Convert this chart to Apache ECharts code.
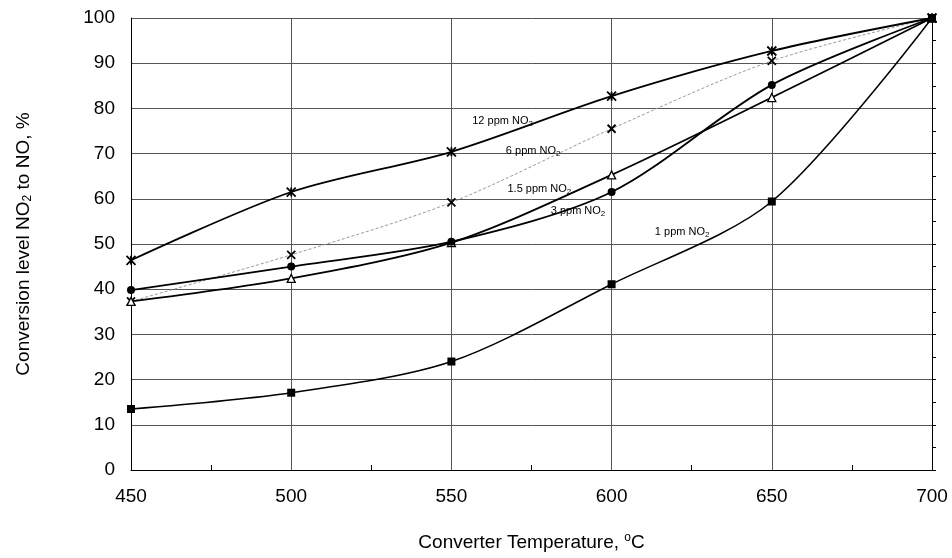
<!DOCTYPE html>
<html>
<head>
<meta charset="utf-8">
<script src="https://cdn.jsdelivr.net/npm/echarts@6/dist/echarts.min.js"></script>
<style>
html,body{margin:0;padding:0;background:#fff;}
#chart{width:952px;height:558px;}
</style>
</head>
<body>
<div id="chart"></div>
<script>
// ---- data ----
const temperatures = [450, 500, 550, 600, 650, 700];
const ppm12 = [46.4, 61.5, 70.4, 82.7, 92.7, 100];
const ppm6 = [37.3, 47.6, 59.2, 75.5, 90.5, 100];
const ppm1_5 = [37.3, 42.4, 50.3, 65.3, 82.4, 100];
const ppm3 = [39.8, 45.0, 50.5, 61.5, 85.2, 100];
const ppm1 = [13.5, 17.1, 24.0, 41.1, 59.4, 100];
const seriesNames = ['12 ppm NO2', '6 ppm NO2', '1.5 ppm NO2', '3 ppm NO2', '1 ppm NO2'];
const yTicks = [0, 10, 20, 30, 40, 50, 60, 70, 80, 90, 100];
const xTicks = [450, 500, 550, 600, 650, 700];

// label annotations (data-space anchors)
const labelTexts = ['12 ppm NO{sub|2}', '6 ppm NO{sub|2}', '1.5 ppm NO{sub|2}', '3 ppm NO{sub|2}', '1 ppm NO{sub|2}'];
const labelAnchors = [[556.5, 77.2], [567, 70.6], [567.5, 62.2], [581, 57.3], [613.5, 52.6]];

function pairs(ys) { return temperatures.map((t, i) => [t, ys[i]]); }

const FONT = 'Liberation Sans, Arial, sans-serif';
const chart = echarts.init(document.getElementById('chart'), null, {renderer: 'canvas'});

const starPath = 'path://M0,0L10,10M10,0L0,10M5,0L5,10';
const crossPath = 'path://M0,0L10,10M10,0L0,10';

const option = {
  backgroundColor: '#fff',
  animation: false,
  grid: {left: 131, right: 20, top: 18, bottom: 88},
  xAxis: {
    type: 'value', min: 450, max: 700, interval: 50,
    name: 'Converter Temperature, {sup|o}C',
    nameLocation: 'middle', nameGap: 62,
    nameTextStyle: {fontFamily: FONT, fontSize: 19, color: '#000',
      rich: {sup: {fontFamily: FONT, fontSize: 12, color: '#000', verticalAlign: 'top', padding: [0, 0, 10, 0]}}},
    axisLine: {show: true, lineStyle: {color: '#000', width: 1}},
    axisTick: {show: false},
    minorTick: {show: true, splitNumber: 2, length: -5, lineStyle: {color: '#000', width: 1}},
    axisLabel: {fontFamily: FONT, fontSize: 19, color: '#000', margin: 17,
      formatter: v => xTicks.includes(v) ? String(v) : ''},
    splitLine: {show: true, lineStyle: {color: '#555', width: 1}}
  },
  yAxis: [{
    type: 'value', min: 0, max: 100, interval: 10,
    name: 'Conversion level NO{sub|2} to NO, %',
    nameLocation: 'middle', nameGap: 97, nameRotate: 90,
    nameTextStyle: {fontFamily: FONT, fontSize: 19, color: '#000',
      rich: {sub: {fontFamily: FONT, fontSize: 12, color: '#000', verticalAlign: 'bottom', padding: [8, 0, 0, 0]}}},
    axisLine: {show: true, lineStyle: {color: '#000', width: 1}},
    axisTick: {show: false},
    axisLabel: {fontFamily: FONT, fontSize: 19, color: '#000', margin: 16,
      formatter: v => yTicks.includes(v) ? String(v) : ''},
    splitLine: {show: true, lineStyle: {color: '#555', width: 1}}
  }, {
    type: 'value', min: 0, max: 100, interval: 5, position: 'right',
    axisLine: {show: true, lineStyle: {color: '#000', width: 1}},
    axisTick: {show: true, length: 4, inside: false, lineStyle: {color: '#000'}},
    axisLabel: {show: false},
    splitLine: {show: false}
  }],
  series: [
    {name: seriesNames[0], type: 'line', data: pairs(ppm12), smooth: 0.3,
      symbol: starPath, symbolSize: 9,
      itemStyle: {color: '#000', borderColor: '#000', borderWidth: 1.8},
      lineStyle: {color: '#000', width: 1.8}, z: 5},
    {name: seriesNames[1], type: 'line', data: pairs(ppm6), smooth: 0.3,
      symbol: crossPath, symbolSize: 8,
      itemStyle: {color: '#000', borderColor: '#000', borderWidth: 1.8},
      lineStyle: {color: '#999', width: 1, type: [3, 2]}, z: 4},
    {name: seriesNames[2], type: 'line', data: pairs(ppm1_5), smooth: 0.3,
      symbol: 'triangle', symbolSize: 8,
      itemStyle: {color: '#fff', borderColor: '#000', borderWidth: 1.3},
      lineStyle: {color: '#000', width: 1.8}, z: 5},
    {name: seriesNames[3], type: 'line', data: pairs(ppm3), smooth: 0.3,
      symbol: 'circle', symbolSize: 8,
      itemStyle: {color: '#000', borderColor: '#000', borderWidth: 0},
      lineStyle: {color: '#000', width: 1.8}, z: 5},
    {name: seriesNames[4], type: 'line', data: pairs(ppm1), smooth: 0.3,
      symbol: 'rect', symbolSize: 8,
      itemStyle: {color: '#000', borderColor: '#000', borderWidth: 0},
      lineStyle: {color: '#000', width: 1.5}, z: 5}
  ]
};
chart.setOption(option);

const graphics = labelAnchors.map((a, i) => {
  const p = chart.convertToPixel({gridIndex: 0}, a);
  return {
    type: 'text', x: p[0], y: p[1], z: 20,
    style: {
      text: labelTexts[i], fontFamily: FONT, fontSize: 11, fill: '#000',
      verticalAlign: 'middle', align: 'left',
      rich: {sub: {fontFamily: FONT, fontSize: 8, fill: '#000', verticalAlign: 'bottom', padding: [6, 0, 0, 0]}}
    }
  };
});
chart.setOption({graphic: graphics});
</script>
</body>
</html>
